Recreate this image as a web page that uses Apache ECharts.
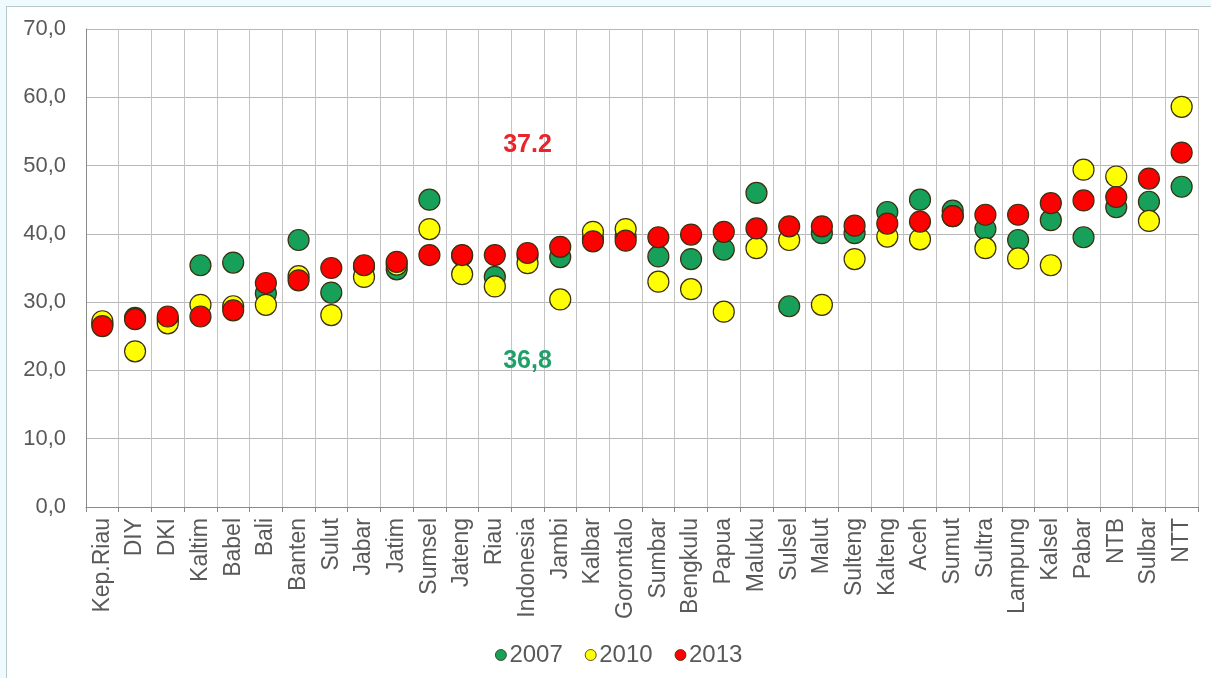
<!DOCTYPE html>
<html>
<head>
<meta charset="utf-8">
<script src="https://cdn.jsdelivr.net/npm/echarts@6/dist/echarts.min.js"></script>
<style>
  html, body { margin: 0; padding: 0; width: 1211px; height: 678px; overflow: hidden; background: #eefafc; }
  #frame { position: absolute; left: 6px; top: 6px; width: 1230px; height: 700px; background: #ffffff; border-left: 1px solid #b7c9ce; border-top: 1px solid #b7c9ce; }
  #chart { position: absolute; left: 0; top: 0; width: 1211px; height: 678px; }
</style>
</head>
<body>
<div id="frame"></div>
<div id="chart"></div>
<script>
const categories = ['Kep.Riau','DIY','DKI','Kaltim','Babel','Bali','Banten','Sulut','Jabar','Jatim','Sumsel','Jateng','Riau','Indonesia','Jambi','Kalbar','Gorontalo','Sumbar','Bengkulu','Papua','Maluku','Sulsel','Malut','Sulteng','Kalteng','Aceh','Sumut','Sultra','Lampung','Kalsel','Pabar','NTB','Sulbar','NTT'];
const values2007 = [26.8, 27.7, 27.4, 35.4, 35.8, 31.3, 39.1, 31.4, 35.2, 34.8, 45.0, 36.8, 33.7, 36.8, 36.6, 39.3, 39.6, 36.7, 36.3, 37.7, 46.0, 29.4, 40.1, 40.1, 43.2, 45.0, 43.4, 40.7, 39.1, 42.0, 39.5, 43.9, 44.7, 46.9];
const values2010 = [27.2, 22.8, 26.9, 29.6, 29.4, 29.6, 33.8, 28.1, 33.7, 35.5, 40.7, 34.1, 32.3, 35.7, 30.4, 40.3, 40.7, 33.0, 31.9, 28.6, 37.9, 39.1, 29.6, 36.3, 39.6, 39.2, 42.6, 37.9, 36.4, 35.4, 49.4, 48.4, 41.9, 58.6];
const values2013 = [26.5, 27.5, 27.9, 27.9, 28.8, 32.8, 33.2, 35.0, 35.4, 35.9, 36.9, 36.9, 36.9, 37.2, 38.1, 38.9, 39.0, 39.5, 39.9, 40.3, 40.8, 41.1, 41.1, 41.2, 41.5, 41.8, 42.6, 42.8, 42.8, 44.5, 44.9, 45.4, 48.1, 51.9];
const seriesNames = ['2007', '2010', '2013'];
const annotation2013 = { category: 'Indonesia', value: 53.0, text: '37.2' };
const annotation2007 = { category: 'Indonesia', value: 21.4, text: '36,8' };

const font = '"Liberation Sans", Arial, sans-serif';
const colors = ['#16a05a', '#ffff00', '#ff0000'];
const outline = { borderColor: '#3b2f10', borderWidth: 1.2 };

function mk(name, data, color, ann, annColor) {
  const s = {
    name: name, type: 'scatter', data: data, symbol: 'circle', symbolSize: 21,
    itemStyle: Object.assign({ color: color, opacity: 1 }, outline),
    emphasis: { disabled: true }, animation: false
  };
  if (ann) {
    s.markPoint = {
      symbol: 'circle', symbolSize: 0, animation: false,
      data: [{ coord: [ann.category, ann.value], value: ann.text }],
      label: { show: true, position: 'inside', formatter: ann.text, color: annColor, fontFamily: font, fontWeight: 'bold', fontSize: 25 }
    };
  }
  return s;
}

const chart = echarts.init(document.getElementById('chart'), null, { renderer: 'canvas' });
chart.setOption({
  backgroundColor: 'transparent',
  animation: false,
  grid: { left: 86, right: 13, top: 29, bottom: 171, containLabel: false },
  legend: {
    data: seriesNames.map((n, i) => ({ name: n, itemStyle: Object.assign({ color: colors[i] }, { borderColor: '#3b2f10', borderWidth: 0.8 }) })),
    bottom: 6, left: 490, icon: 'circle', itemWidth: 11, itemHeight: 11, itemGap: 22,
    textStyle: { fontFamily: font, fontSize: 24, color: '#595959', padding: [0, 0, 0, -2] },
    selectedMode: false
  },
  xAxis: {
    type: 'category', data: categories, boundaryGap: true,
    axisLine: { show: true, lineStyle: { color: '#8a8a8a', width: 1 } },
    axisTick: { show: true, length: 5, lineStyle: { color: '#8a8a8a' } },
    splitLine: { show: true, lineStyle: { color: '#c4c4c4', width: 1 } },
    axisLabel: { interval: 0, rotate: 90, margin: 11, fontFamily: font, fontSize: 23, color: '#595959' }
  },
  yAxis: {
    type: 'value', min: 0, max: 70, interval: 10,
    axisLine: { show: true, lineStyle: { color: '#8a8a8a', width: 1 } },
    axisTick: { show: false },
    splitLine: { show: true, lineStyle: { color: '#b8b8b8', width: 1 } },
    axisLabel: { margin: 20, fontFamily: font, fontSize: 22, color: '#595959', formatter: v => v.toFixed(1).replace('.', ',') }
  },
  series: [
    mk(seriesNames[0], values2007, colors[0], annotation2007, '#1fa067'),
    mk(seriesNames[1], values2010, colors[1], null, null),
    mk(seriesNames[2], values2013, colors[2], annotation2013, '#e8242c')
  ]
});
</script>
</body>
</html>
